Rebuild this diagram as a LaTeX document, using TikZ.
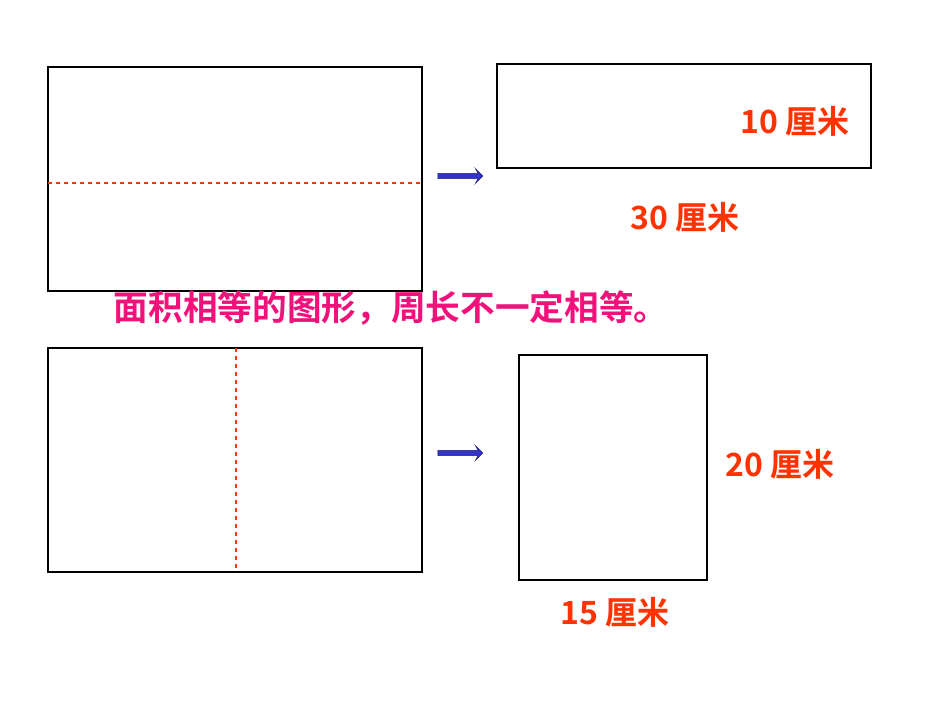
\documentclass[tikz,border=0pt]{standalone}
\usepackage{fontspec}
\setmainfont{Liberation Sans}
\newfontfamily\cjk{Noto Sans CJK SC}[BoldFont={Noto Sans CJK SC Bold}]
\usetikzlibrary{shapes.arrows}
\definecolor{lab}{HTML}{FF3300}
\definecolor{mag}{HTML}{F0127A}
\definecolor{arr}{HTML}{3333CC}
\begin{document}
\begin{tikzpicture}[x=0.75pt,y=-0.75pt,
  box/.style={draw=black,line width=1.5pt},
  cut/.style={draw=lab,dashed,line width=1.2pt},
  lbl/.style={text=lab,font=\cjk\bfseries\fontsize{24}{26}\selectfont,inner sep=0pt},
  blk/.style={single arrow,draw=arr!60!black,fill=arr,minimum width=15*0.75pt,single arrow head extend=4*0.75pt,minimum height=45*0.75pt,inner sep=1.5pt,single arrow head indent=2pt}]
\useasboundingbox[fill=white] (0,0) rectangle (950,713);
\draw[box] (48,67) rectangle (422,291);
\draw[cut] (48,183) -- (422,183);
\draw[box] (497,64) rectangle (871,168);
\draw[box] (48,348) rectangle (422,572);
\draw[cut] (236,348) -- (236,572);
\draw[box] (519,355) rectangle (707,580);
\node[blk] (a1) at (459,176) {};
\node[blk] (a2) at (459,453) {};
\node[lbl] (t1) at (795,121) {10 厘米};
\node[lbl] (t2) at (685,217) {30 厘米};
\node[lbl] (t3) at (780,464) {20 厘米};
\node[lbl] (t4) at (615,612) {15 厘米};
\node[text=mag,font=\cjk\bfseries\fontsize{26}{28}\selectfont,inner sep=0pt] (m) at (391,308) {面积相等的图形，周长不一定相等。};
\end{tikzpicture}
\end{document}
